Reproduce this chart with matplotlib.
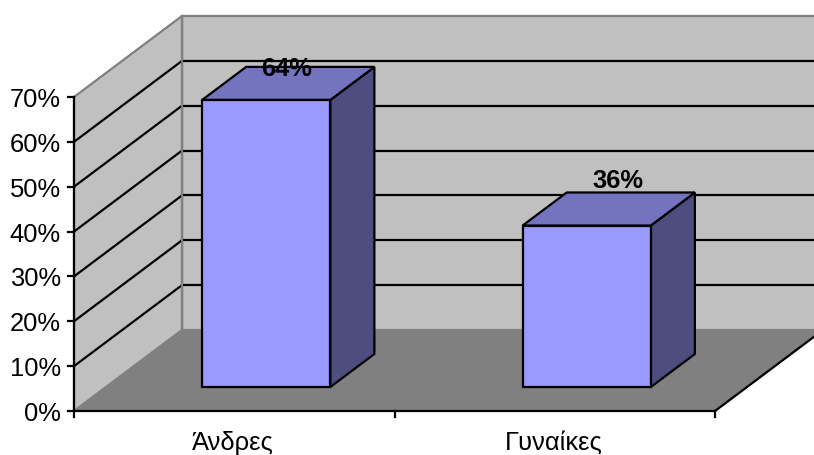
#!/usr/bin/env python3
"""Two-bar column chart drawn with an oblique 3D projection on a flat axes."""

import matplotlib
matplotlib.use("Agg")
import matplotlib.pyplot as plt
from matplotlib.patches import Polygon

plt.rcParams["font.family"] = ["Liberation Sans", "DejaVu Sans"]

categories = ["Άνδρες", "Γυναίκες"]
values = [64, 36]
value_labels = ["64%", "36%"]
y_ticks = [0, 10, 20, 30, 40, 50, 60, 70]
y_tick_labels = ["0%", "10%", "20%", "30%", "40%", "50%", "60%", "70%"]

WALL = "#c0c0c0"
FLOOR = "#808080"
BAR_FRONT = "#9999ff"
BAR_TOP = "#7373bf"
BAR_SIDE = "#4d4d80"
LW = 1.6

# projection, in figure pixels
X0, Y0 = 74.0, 411.0
CAT_W = 320.5
PER_PCT = 314.0 / 70
DEPTH_X, DEPTH_Y = 108.0, -81.0

# nudge of each value label, pixels
LABEL_NUDGE_X = [-2, 9]
LABEL_NUDGE_Y = [2, -11]


def project(cat, val, depth=0.0):
    """cat in category widths, val in percent, depth 0 (front) to 1 (back)."""
    return (X0 + cat * CAT_W + depth * DEPTH_X,
            Y0 - val * PER_PCT + depth * DEPTH_Y)


def face(ax, pts, color, edge="black", lw=LW, z=2):
    ax.add_patch(Polygon(pts, closed=True, facecolor=color, edgecolor=edge,
                         linewidth=lw, joinstyle="miter", zorder=z))


fig = plt.figure(figsize=(8.14, 4.55), dpi=100)
ax = fig.add_axes([0, 0, 1, 1])
ax.set_xlim(0, 814)
ax.set_ylim(455, 0)
ax.axis("off")

n = len(categories)
top = y_ticks[-1]

# walls and floor
face(ax, [project(0, 0, 1), project(n, 0, 1), project(n, top, 1), project(0, top, 1)],
     WALL, edge=FLOOR, lw=1.6, z=1)
face(ax, [project(0, 0), project(0, 0, 1), project(0, top, 1), project(0, top)],
     WALL, edge=FLOOR, lw=1.6, z=1)
face(ax, [project(0, 0), project(n, 0), project(n, 0, 1), project(0, 0, 1)],
     FLOOR, edge=FLOOR, lw=1.0, z=1.2)

# gridlines run along the left wall and then the back wall
for v in y_ticks[1:-1]:
    pts = [project(0, v), project(0, v, 1), project(n, v, 1)]
    ax.plot([pts[0][0], pts[1][0]], [pts[0][1], pts[1][1]], color="black", lw=LW, zorder=1.5)
    ax.plot([pts[1][0], pts[2][0]], [pts[1][1], pts[2][1]], color="black", lw=LW, zorder=1.5)

# redraw the wall corner over the gridline joints
cx, cy = project(0, 0, 1)
tx, ty = project(0, top, 1)
ax.plot([cx, tx], [cy, ty], color=FLOOR, lw=1.6, zorder=1.6)

# floor edge on the right side
ax.plot(*zip(project(n, 0), project(n, 0, 1)), color="black", lw=LW, zorder=1.7)

# axes
ax.plot(*zip(project(0, 0), project(0, top)), color="black", lw=LW, zorder=3, solid_capstyle="projecting")
ax.plot(*zip(project(0, 0), project(n, 0)), color="black", lw=LW, zorder=3, solid_capstyle="projecting")
for v, lab in zip(y_ticks, y_tick_labels):
    x, y = project(0, v)
    ax.plot([x - 6, x], [y, y], color="black", lw=LW, zorder=3)
    ax.text(x - 13, y + 3, lab, ha="right", va="center", fontsize=18.4, color="black")
for i in range(n + 1):
    x, y = project(i, 0)
    ax.plot([x, x], [y, y + 6], color="black", lw=LW, zorder=3)

# bars
for i, (cat, v, lab) in enumerate(zip(categories, values, value_labels)):
    l, r = i + 0.3, i + 0.7
    d0, d1 = 0.296, 0.704
    face(ax, [project(r, 0, d0), project(r, 0, d1), project(r, v, d1), project(r, v, d0)], BAR_SIDE)
    face(ax, [project(l, v, d0), project(r, v, d0), project(r, v, d1), project(l, v, d1)], BAR_TOP)
    face(ax, [project(l, 0, d0), project(r, 0, d0), project(r, v, d0), project(l, v, d0)], BAR_FRONT)

    # value label sits over the centre of the bar's top face
    tx, _ = project(i + 0.5, v, 0.5)
    _, ty = project(i + 0.5, v, d1)
    ax.text(tx + LABEL_NUDGE_X[i], ty + LABEL_NUDGE_Y[i], lab, ha="center", va="center",
            fontsize=18.4, fontweight="bold", color="black", zorder=5)

    lx, _ = project(i + 0.5, 0)
    ax.text(lx - 1, 443, cat, ha="center", va="center", fontsize=18.4, color="black")

fig.savefig("out.png", dpi=100)
